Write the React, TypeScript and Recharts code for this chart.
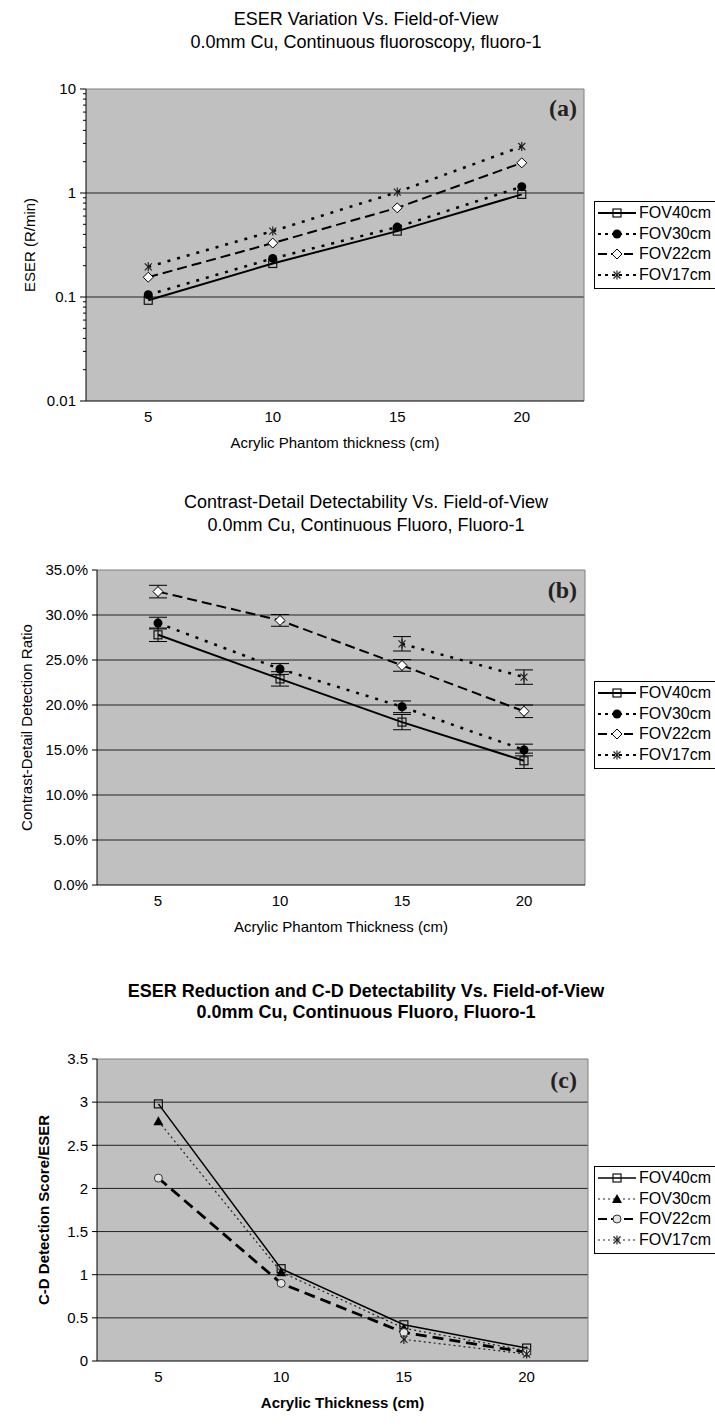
import React from 'react';
import {
  LineChart,
  Line,
  XAxis,
  YAxis,
  CartesianGrid,
  ErrorBar,
  Legend,
  ReferenceLine,
} from 'recharts';

const FONT = '"Liberation Sans", Arial, Helvetica, sans-serif';
const SERIF = '"Liberation Serif", "Times New Roman", serif';

const thickness = [5, 10, 15, 20];
const seriesNames = ['FOV40cm', 'FOV30cm', 'FOV22cm', 'FOV17cm'];

// (a) ESER in R/min, log axis
const eser40 = [0.093, 0.21, 0.43, 0.97];
const eser30 = [0.105, 0.235, 0.47, 1.15];
const eser22 = [0.155, 0.33, 0.72, 1.95];
const eser17 = [0.195, 0.43, 1.02, 2.8];
const eserTicks = [0.01, 0.1, 1, 10];
const eserMinorTicks = [
  0.02, 0.03, 0.04, 0.05, 0.06, 0.07, 0.08, 0.09,
  0.2, 0.3, 0.4, 0.5, 0.6, 0.7, 0.8, 0.9,
  2, 3, 4, 5, 6, 7, 8, 9,
];

// (b) contrast-detail detection ratio in %, with error bars
const cd40 = [27.8, 22.9, 18.1, 13.8];
const cd40Err = [0.75, 0.8, 0.85, 0.85];
const cd30 = [29.1, 24.0, 19.8, 15.0];
const cd30Err = [0.65, 0.6, 0.65, 0.65];
const cd22 = [32.6, 29.4, 24.4, 19.3];
const cd22Err = [0.7, 0.65, 0.65, 0.7];
const cd17 = [null, null, 26.8, 23.1];
const cd17Err = [null, null, 0.8, 0.8];
const cdTicks = [0, 5, 10, 15, 20, 25, 30, 35];

// (c) C-D detection score / ESER
const ratio40 = [2.98, 1.07, 0.42, 0.15];
const ratio30 = [2.78, 1.03, 0.38, 0.12];
const ratio22 = [2.12, 0.9, 0.33, 0.1];
const ratio17 = [null, null, 0.25, 0.08];
const ratioTicks = [0, 0.5, 1, 1.5, 2, 2.5, 3, 3.5];

const eserRows = thickness.map((t, i) => ({
  t, s40: eser40[i], s30: eser30[i], s22: eser22[i], s17: eser17[i],
}));
const cdRows = thickness.map((t, i) => ({
  t,
  s40: cd40[i], e40: cd40Err[i],
  s30: cd30[i], e30: cd30Err[i],
  s22: cd22[i], e22: cd22Err[i],
  s17: cd17[i], e17: cd17Err[i],
}));
const ratioRows = thickness.map((t, i) => ({
  t, s40: ratio40[i], s30: ratio30[i], s22: ratio22[i], s17: ratio17[i],
}));

type MarkerKind = 'square' | 'dot' | 'diamond' | 'star' | 'triangle' | 'ring';

interface SeriesStyle {
  key: string;
  name: string;
  marker: MarkerKind;
  dash?: string;
  legendDash?: string;
  width: number;
  color: string;
  err?: string;
}

const keys = ['s40', 's30', 's22', 's17'];

const fovSeries: SeriesStyle[] = [
  { key: keys[0], name: seriesNames[0], marker: 'square', width: 2, color: '#000' },
  { key: keys[1], name: seriesNames[1], marker: 'dot', dash: '3 7', legendDash: '3 4', width: 2.5, color: '#000' },
  { key: keys[2], name: seriesNames[2], marker: 'diamond', dash: '10 5', legendDash: '9 4', width: 2, color: '#000' },
  { key: keys[3], name: seriesNames[3], marker: 'star', dash: '3 7', legendDash: '3 4', width: 2.5, color: '#000' },
];

const cdSeries: SeriesStyle[] = fovSeries.map((s, i) => ({ ...s, err: ['e40', 'e30', 'e22', 'e17'][i] }));

const ratioSeries: SeriesStyle[] = [
  { key: keys[0], name: seriesNames[0], marker: 'square', width: 1.5, color: '#000' },
  { key: keys[1], name: seriesNames[1], marker: 'triangle', dash: '2 3', legendDash: '2 3', width: 1.2, color: '#222' },
  { key: keys[2], name: seriesNames[2], marker: 'ring', dash: '11 6', legendDash: '9 4', width: 2.8, color: '#000' },
  { key: keys[3], name: seriesNames[3], marker: 'star', dash: '2 3', legendDash: '2 3', width: 1.2, color: '#222' },
];

function Marker({ kind, cx, cy }: { kind: MarkerKind; cx: number; cy: number }) {
  switch (kind) {
    case 'square':
      return <rect x={cx - 4} y={cy - 4} width={8} height={8} fill="none" stroke="#111" strokeWidth={1.2} />;
    case 'dot':
      return <circle cx={cx} cy={cy} r={4.5} fill="#000" />;
    case 'diamond':
      return (
        <path
          d={`M${cx},${cy - 5} L${cx + 5},${cy} L${cx},${cy + 5} L${cx - 5},${cy} Z`}
          fill="#fff"
          stroke="#000"
          strokeWidth={1}
        />
      );
    case 'star':
      return (
        <g stroke="#222" strokeWidth={1.2}>
          <line x1={cx - 3.5} y1={cy - 3.5} x2={cx + 3.5} y2={cy + 3.5} />
          <line x1={cx - 3.5} y1={cy + 3.5} x2={cx + 3.5} y2={cy - 3.5} />
          <line x1={cx} y1={cy - 4.5} x2={cx} y2={cy + 4.5} />
        </g>
      );
    case 'triangle':
      return <path d={`M${cx},${cy - 5} L${cx + 5},${cy + 4} L${cx - 5},${cy + 4} Z`} fill="#000" />;
    case 'ring':
      return <circle cx={cx} cy={cy} r={4} fill="#e4e4e4" stroke="#333" strokeWidth={1} />;
  }
  return null;
}

const makeDot = (kind: MarkerKind) => (props: any) => {
  const { cx, cy, index, value } = props;
  if (cx == null || cy == null || value == null || Number.isNaN(cy)) {
    return <g key={`n${index}`} />;
  }
  return (
    <g key={`d${index}`}>
      <Marker kind={kind} cx={cx} cy={cy} />
    </g>
  );
};

function LegendBox({ series }: { series: SeriesStyle[] }) {
  return (
    <div
      style={{
        border: '1px solid #000',
        background: '#fff',
        width: 140,
        height: 88,
        boxSizing: 'border-box',
        padding: '1px 0 0 3px',
        fontFamily: FONT,
        fontSize: 16,
        color: '#000',
      }}
    >
      {series.map((s) => (
        <div key={s.key} style={{ display: 'flex', alignItems: 'center', height: 20.5 }}>
          <svg width={38} height={14} style={{ display: 'block' }}>
            <line
              x1={0}
              x2={38}
              y1={7}
              y2={7}
              stroke={s.color}
              strokeWidth={Math.min(s.width, 2)}
              strokeDasharray={s.legendDash}
            />
            <Marker kind={s.marker} cx={19} cy={7} />
          </svg>
          <span style={{ marginLeft: 3, lineHeight: '16px' }}>{s.name}</span>
        </div>
      ))}
    </div>
  );
}

function ChartTitle({ lines, top, lineHeight, bold }: { lines: string[]; top: number; lineHeight: number; bold?: boolean }) {
  return (
    <div
      style={{
        position: 'absolute',
        left: 0,
        width: 732,
        top,
        textAlign: 'center',
        fontFamily: FONT,
        fontSize: 18,
        lineHeight: `${lineHeight}px`,
        fontWeight: bold ? 'bold' : 'normal',
        color: '#000',
      }}
    >
      {lines.map((l) => (
        <div key={l}>{l}</div>
      ))}
    </div>
  );
}

function PanelTag({ text, top }: { text: string; top: number }) {
  return (
    <div
      style={{
        position: 'absolute',
        left: 510,
        width: 67,
        top,
        textAlign: 'right',
        fontFamily: SERIF,
        fontWeight: 'bold',
        fontSize: 24,
        lineHeight: '24px',
        color: '#222',
      }}
    >
      {text}
    </div>
  );
}

const axisText = { fontSize: 15, fill: '#000', fontFamily: FONT };

function LogTick(props: any) {
  const { x, y, payload } = props;
  const v = payload.value;
  const major = eserTicks.includes(v);
  const ax = x + 10;
  return (
    <g>
      <line x1={ax} x2={ax - (major ? 6 : 3)} y1={y} y2={y} stroke="#000" />
      {major && (
        <text x={x} y={y} dy="0.35em" textAnchor="end" fontSize={15} fontFamily={FONT} fill="#000">
          {String(v)}
        </text>
      )}
    </g>
  );
}

function renderLines(series: SeriesStyle[]) {
  return series.map((s) => (
    <Line
      key={s.key}
      dataKey={s.key}
      name={s.name}
      type="linear"
      stroke={s.color}
      strokeWidth={s.width}
      strokeDasharray={s.dash}
      dot={makeDot(s.marker)}
      activeDot={false}
      isAnimationActive={false}
    >
      {s.err && (
        <ErrorBar dataKey={s.err} width={9} stroke="#000" strokeWidth={1} direction="y" isAnimationActive={false} />
      )}
    </Line>
  ));
}

function EserChart() {
  return (
    <div style={{ position: 'absolute', left: 0, top: 0 }}>
      <LineChart width={715} height={465} data={eserRows} margin={{ top: 89, right: 131, bottom: 14, left: 0 }}>
        <CartesianGrid vertical={false} horizontalValues={[0.1, 1]} stroke="#222" fill="#c0c0c0" />
        <ReferenceLine y={10} stroke="#808080" />
        <ReferenceLine x={22.5} stroke="#808080" />
        <XAxis
          type="number"
          dataKey="t"
          domain={[2.5, 22.5]}
          ticks={thickness}
          tickLine={false}
          tickSize={6}
          tickMargin={4}
          stroke="#000"
          tick={axisText}
          height={50}
          label={{ value: 'Acrylic Phantom thickness (cm)', position: 'insideBottom', offset: 3, ...axisText }}
        />
        <YAxis
          type="number"
          scale="log"
          domain={[0.01, 10]}
          ticks={[...eserTicks, ...eserMinorTicks].sort((a, b) => a - b)}
          interval={0}
          allowDataOverflow
          tickLine={false}
          tickSize={6}
          tickMargin={4}
          tick={(p: any) => <LogTick {...p} />}
          width={86}
          stroke="#000"
          label={{ value: 'ESER (R/min)', angle: -90, position: 'center', dx: -13, ...axisText }}
        />
        {renderLines(fovSeries)}
        <Legend
          layout="vertical"
          align="center"
          verticalAlign="middle"
          wrapperStyle={{ left: 594, top: 201, width: 140, height: 88 }}
          content={() => <LegendBox series={fovSeries} />}
        />
      </LineChart>
    </div>
  );
}

function CdChart() {
  return (
    <div style={{ position: 'absolute', left: 0, top: 460 }}>
      <LineChart width={715} height={490} data={cdRows} margin={{ top: 110, right: 130, bottom: 15, left: 0 }}>
        <CartesianGrid vertical={false} horizontalValues={[5, 10, 15, 20, 25, 30]} stroke="#222" fill="#c0c0c0" />
        <ReferenceLine y={35} stroke="#808080" />
        <ReferenceLine x={22.5} stroke="#808080" />
        <XAxis
          type="number"
          dataKey="t"
          domain={[2.5, 22.5]}
          ticks={thickness}
          tickLine={false}
          tickSize={6}
          tickMargin={4}
          stroke="#000"
          tick={axisText}
          height={50}
          label={{ value: 'Acrylic Phantom Thickness (cm)', position: 'insideBottom', offset: 3, ...axisText }}
        />
        <YAxis
          type="number"
          domain={[0, 35]}
          ticks={cdTicks}
          interval={0}
          tickSize={5}
          tickMargin={4}
          tickFormatter={(v: number) => `${v.toFixed(1)}%`}
          tick={axisText}
          width={97}
          stroke="#000"
          label={{ value: 'Contrast-Detail Detection Ratio', angle: -90, position: 'center', dx: -22, ...axisText }}
        />
        {renderLines(cdSeries)}
        <Legend
          layout="vertical"
          align="center"
          verticalAlign="middle"
          wrapperStyle={{ left: 594, top: 221, width: 140, height: 88 }}
          content={() => <LegendBox series={cdSeries} />}
        />
      </LineChart>
    </div>
  );
}

function RatioChart() {
  const bold = { ...axisText, fontWeight: 'bold' };
  return (
    <div style={{ position: 'absolute', left: 0, top: 950 }}>
      <LineChart width={715} height={477} data={ratioRows} margin={{ top: 109, right: 127, bottom: 16, left: 0 }}>
        <CartesianGrid vertical={false} horizontalValues={[0.5, 1, 1.5, 2, 2.5, 3]} stroke="#222" fill="#c0c0c0" />
        <ReferenceLine y={3.5} stroke="#808080" />
        <ReferenceLine x={22.5} stroke="#808080" />
        <XAxis
          type="number"
          dataKey="t"
          domain={[2.5, 22.5]}
          ticks={thickness}
          tickLine={false}
          tickSize={6}
          tickMargin={4}
          stroke="#000"
          tick={axisText}
          height={50}
          label={{ value: 'Acrylic Thickness (cm)', position: 'insideBottom', offset: 3, ...bold }}
        />
        <YAxis
          type="number"
          domain={[0, 3.5]}
          ticks={ratioTicks}
          interval={0}
          tickSize={5}
          tickMargin={4}
          tick={axisText}
          width={97}
          stroke="#000"
          label={{ value: 'C-D Detection Score/ESER', angle: -90, position: 'center', dx: -5, ...bold }}
        />
        {renderLines(ratioSeries)}
        <Legend
          layout="vertical"
          align="center"
          verticalAlign="middle"
          wrapperStyle={{ left: 594, top: 216, width: 140, height: 88 }}
          content={() => <LegendBox series={ratioSeries} />}
        />
      </LineChart>
    </div>
  );
}

export default function App() {
  return (
    <div
      style={{
        position: 'absolute',
        left: 0,
        top: 0,
        width: 715,
        height: 1427,
        overflow: 'hidden',
        background: '#fff',
      }}
    >
      <ChartTitle
        lines={['ESER Variation Vs. Field-of-View', '0.0mm Cu, Continuous fluoroscopy, fluoro-1']}
        top={8}
        lineHeight={23}
      />
      <EserChart />
      <PanelTag text="(a)" top={96} />

      <ChartTitle
        lines={['Contrast-Detail Detectability Vs. Field-of-View', '0.0mm Cu, Continuous Fluoro, Fluoro-1']}
        top={491}
        lineHeight={23}
      />
      <CdChart />
      <PanelTag text="(b)" top={578} />

      <ChartTitle
        lines={['ESER Reduction and C-D Detectability Vs. Field-of-View', '0.0mm Cu, Continuous Fluoro, Fluoro-1']}
        top={981}
        lineHeight={21}
        bold
      />
      <RatioChart />
      <PanelTag text="(c)" top={1068} />
    </div>
  );
}
